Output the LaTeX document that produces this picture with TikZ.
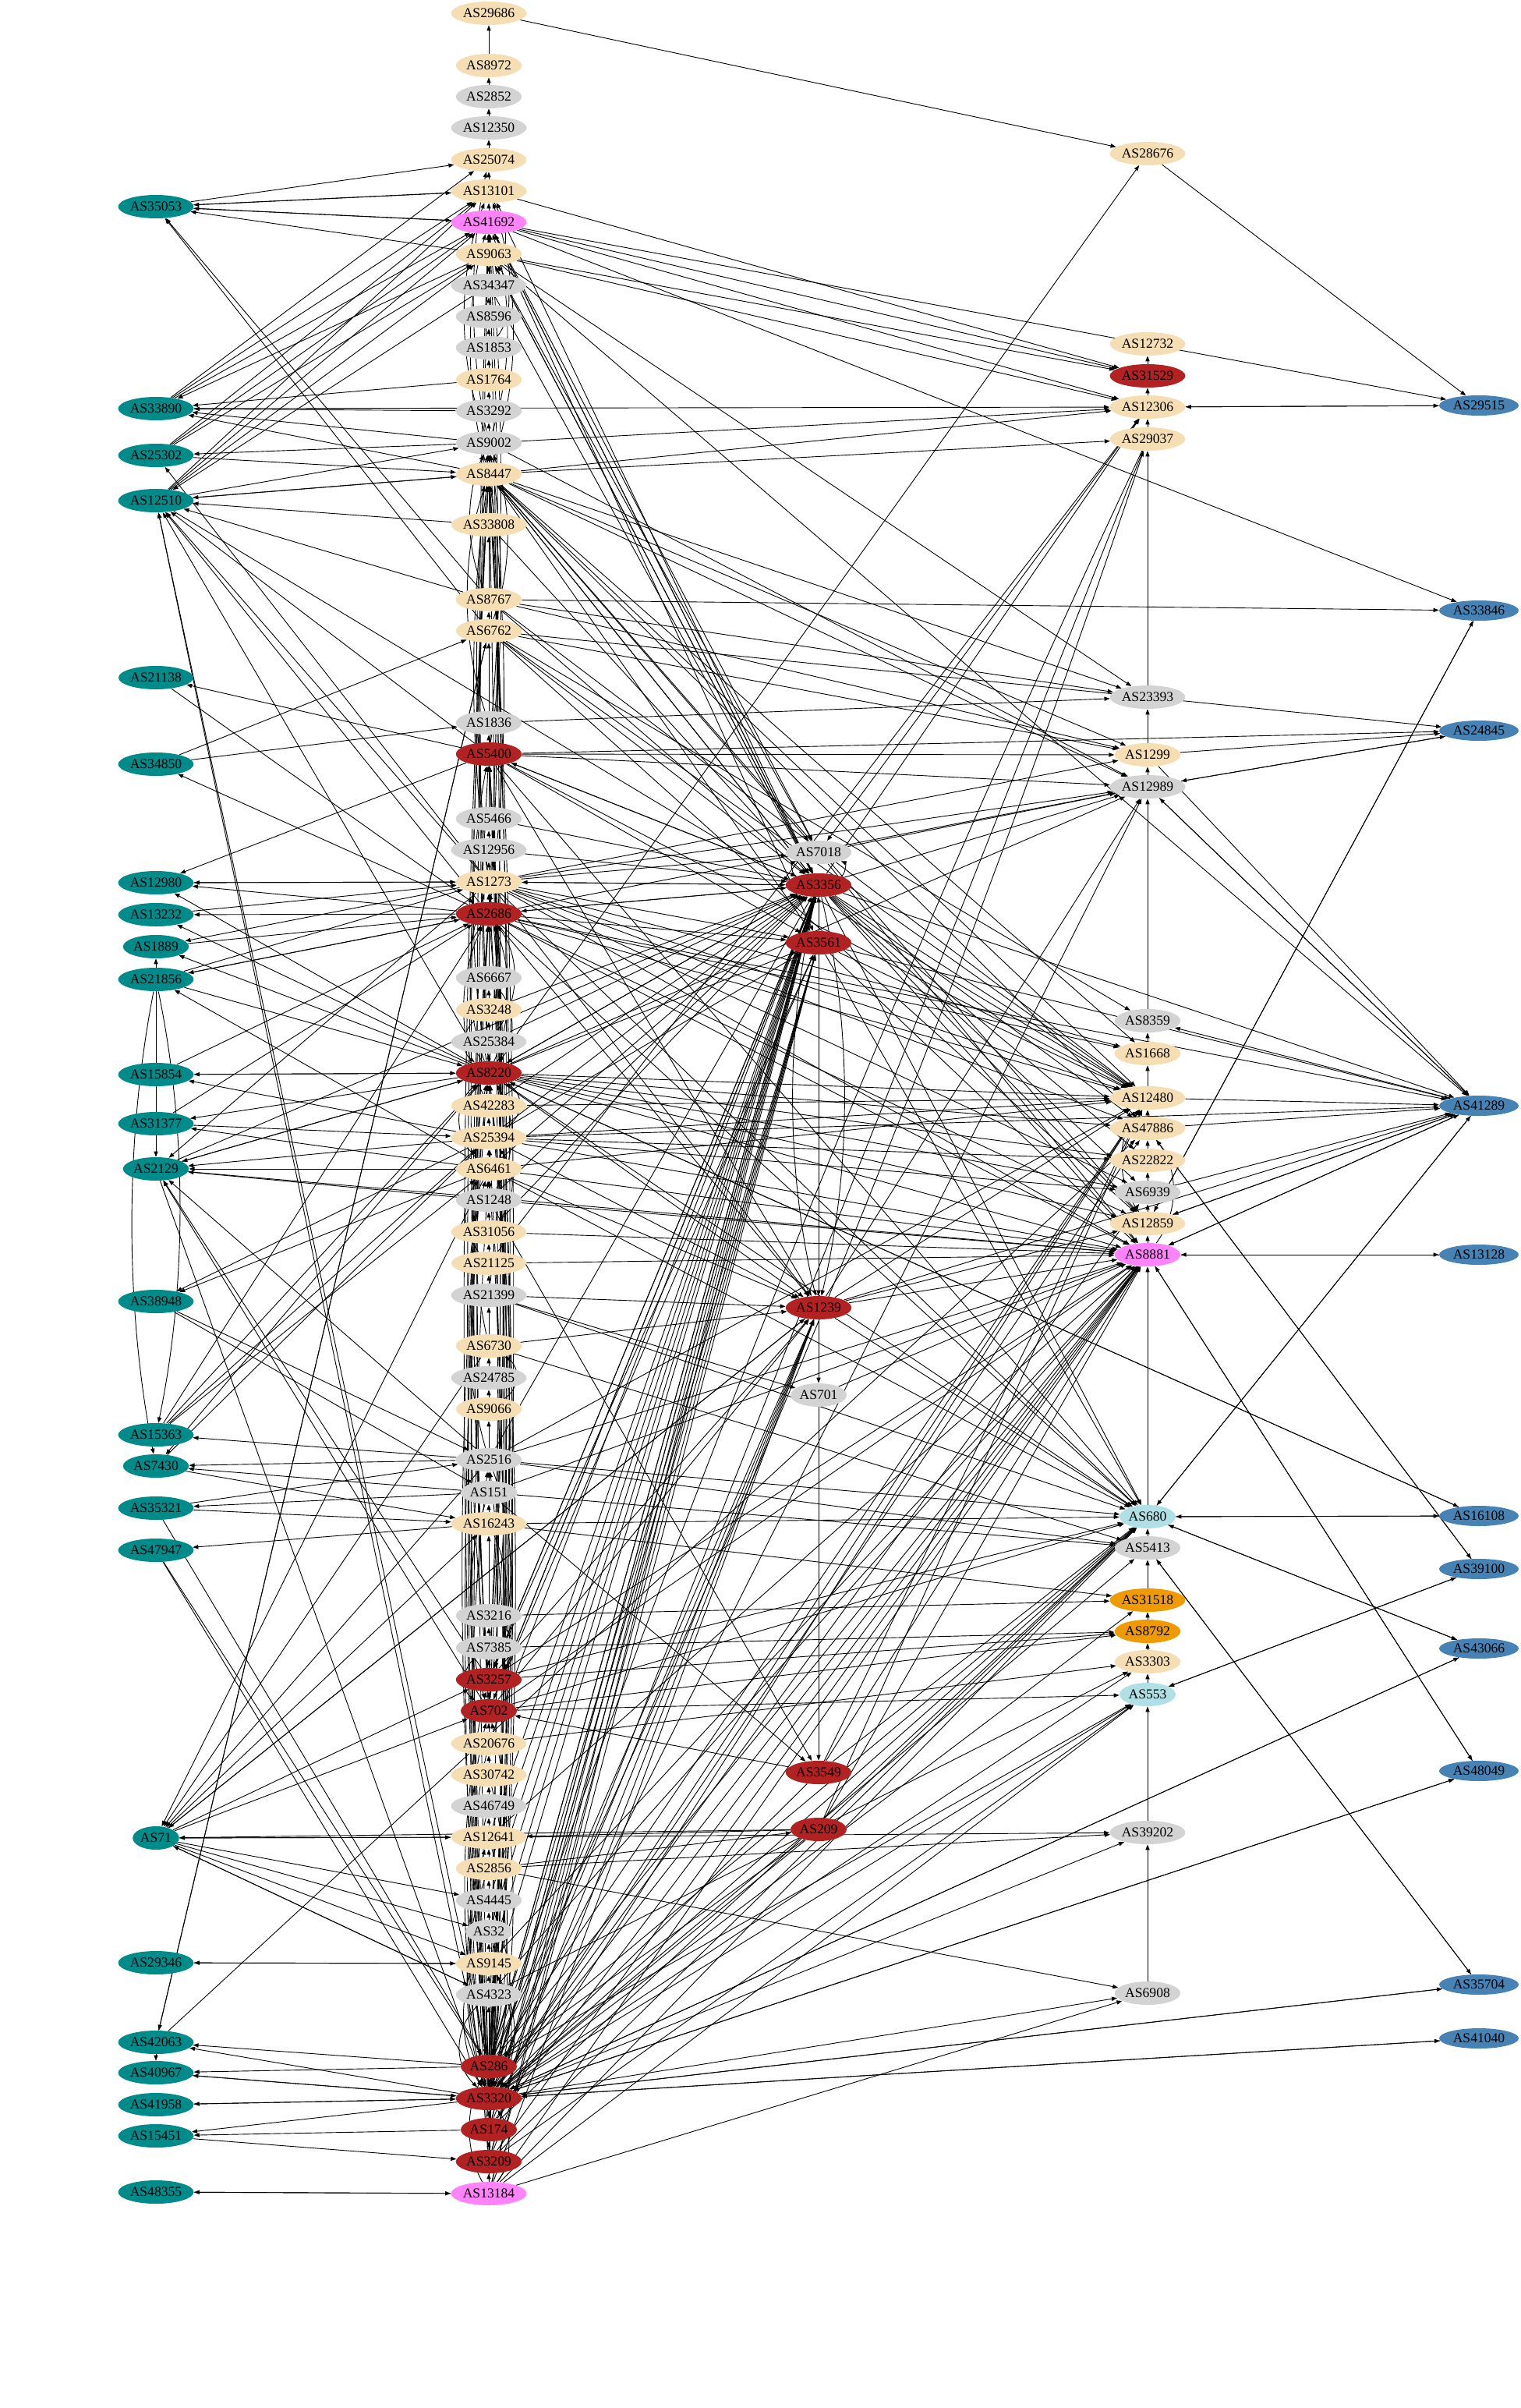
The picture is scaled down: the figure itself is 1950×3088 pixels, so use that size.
\documentclass[tikz,border=0pt]{standalone}
\usepackage{fontspec}
\setmainfont{Liberation Serif}
\usetikzlibrary{shapes.geometric,arrows.meta,backgrounds,calc}
\definecolor{wheatc}{HTML}{F5DEB3}
\definecolor{lgray}{HTML}{D3D3D3}
\definecolor{fire}{HTML}{B22222}
\definecolor{viol}{HTML}{FF83FA}
\definecolor{tealc}{HTML}{008B8B}
\definecolor{steel}{HTML}{4682B4}
\definecolor{powder}{HTML}{B0E0E6}
\definecolor{orng}{HTML}{EE9A00}
\tikzset{
 asn/.style={ellipse, draw=none, inner xsep=0.5pt, inner ysep=0pt, minimum height=15pt, font=\fontsize{8.8}{10}\selectfont, text=black},
 wh/.style={asn, fill=wheatc}, gr/.style={asn, fill=lgray}, rd/.style={asn, fill=fire},
 vi/.style={asn, fill=viol}, tl/.style={asn, fill=tealc}, sb/.style={asn, fill=steel, minimum height=13pt, minimum width=51pt},
 pb/.style={asn, fill=powder}, og/.style={asn, fill=orng},
 e/.style={draw=black, line width=0.45pt, -{Triangle[length=3.5pt,width=2.6pt]}}
}
\begin{document}
\begin{tikzpicture}[x=0.5pt,y=-0.5pt]
\useasboundingbox (0,0) rectangle (1950,3088);
% column 2
\foreach \n/\y/\s in {29686/17/wh,8972/84/wh,2852/124/gr,12350/164/gr,25074/205/wh,13101/245/wh,41692/285/vi,9063/326/wh,34347/366/gr,8596/406/gr,1853/446/gr,1764/487/wh,3292/527/gr,9002/568/gr,8447/608/wh,33808/673/wh,8767/769/wh,6762/809/wh,1836/927/gr,5400/967/rd,5466/1050/gr,12956/1090/gr,1273/1131/wh,2686/1172/rd,6667/1254/gr,3248/1295/wh,25384/1336/gr,8220/1376/rd,42283/1418/wh,25394/1459/wh,6461/1499/wh,1248/1539/gr,31056/1580/wh,21125/1620/wh,21399/1661/gr,6730/1726/wh,24785/1767/gr,9066/1807/wh,2516/1872/gr,151/1914/gr,16243/1954/wh,3216/2072/gr,7385/2113/gr,3257/2154/rd,702/2194/rd,20676/2236/wh,30742/2276/wh,46749/2316/gr,12641/2356/wh,2856/2396/wh,4445/2437/gr,32/2477/gr,9145/2518/wh,4323/2558/gr,286/2650/rd,3320/2691/rd,174/2731/rd,3209/2772/rd,13184/2813/vi}
 {\node[\s] (a\n) at (627,\y) {AS\n};}
% column 1
\foreach \n/\y in {35053/265,33890/524,25302/584,12510/642,21138/869,34850/980,12980/1132,13232/1173,1889/1214,21856/1256,15854/1378,31377/1441,2129/1499,38948/1669,15363/1840,7430/1880,35321/1934,47947/1988,71/2357,29346/2517,42063/2619,40967/2658,41958/2699,15451/2739,48355/2811}
 {\node[tl] (a\n) at (200,\y) {AS\n};}
% column 3
\foreach \n/\y/\s in {7018/1093/gr,3356/1135/rd,3561/1209/rd,1239/1677/rd,701/1789/gr,3549/2273/rd,209/2346/rd}
 {\node[\s] (a\n) at (1050,\y) {AS\n};}
% column 4
\foreach \n/\y/\s in {28676/197/wh,12732/441/wh,31529/482/rd,12306/522/wh,29037/563/wh,23393/894/gr,1299/968/wh,12989/1009/gr,8359/1309/gr,1668/1351/wh,12480/1408/wh,47886/1447/wh,22822/1488/wh,6939/1529/gr,12859/1569/wh,8881/1609/vi,680/1945/pb,5413/1985/gr,31518/2052/og,8792/2092/og,3303/2131/wh,553/2173/pb,39202/2350/gr,6908/2556/gr}
 {\node[\s] (a\n) at (1472,\y) {AS\n};}
% column 5
\foreach \n/\y in {29515/520,33846/783,24845/937,41289/1418,13128/1609,16108/1944,39100/2012,43066/2114,48049/2271,35704/2545,41040/2614}
 {\node[sb] (a\n) at (1897,\y) {AS\n};}
\begin{scope}[on background layer]
\fill[white] (0,0) rectangle (1950,3088);
\end{scope}
\begin{scope}[on background layer]
% straight edges
\foreach \a/\b in {
35053/25074, 35053/13101, 35053/41692, 41692/35053, 13101/35053, 9063/35053, 8767/35053, 6762/35053,
33890/25074, 33890/13101, 33890/41692, 9063/33890, 9002/33890, 8447/33890, 3292/33890, 1764/33890,
25302/41692, 25302/13101, 25302/8447, 9002/25302, 1273/25302, 25302/9063,
12510/41692, 12510/13101, 12510/9063, 12510/9002, 12510/8447, 8447/12510, 34347/12510, 5400/12510, 1273/12510, 2686/12510, 8220/12510, 3320/12510, 286/12510, 33808/12510, 8767/12510,
5400/21138, 21138/2686, 34850/6762, 2686/34850, 34850/1836,
1273/12980, 12980/1273, 2686/12980, 8220/12980, 5400/12980,
2686/13232, 8220/13232, 13232/1273, 1889/2686, 8220/1889, 1273/1889,
21856/2686, 21856/8220, 2686/21856, 21856/1273, 6461/21856, 21856/2129, 21856/1889,
8220/15854, 15854/8220, 25394/15854, 15854/2686,
8220/31377, 31377/25394, 6461/31377, 31377/2686,
8220/2129, 2129/8220, 25394/2129, 6461/2129, 1273/2129, 2516/2129, 702/2129, 3257/2129, 2129/3356, 1248/2129, 2129/8881, 2129/3320,
38948/2516, 25394/38948, 6461/38948, 38948/151,
15363/2686, 15363/8220, 15363/25394, 15363/6461, 2516/15363,
2516/7430, 151/7430, 7430/16243, 8220/7430, 7430/25394,
151/35321, 35321/2516, 35321/16243, 47947/286, 47947/3320, 16243/47947, 35321/286,
71/12641, 12641/71, 71/4445, 71/32, 71/9145, 71/4323, 4323/71, 2516/71, 71/16243, 209/71, 71/3257, 6461/71, 71/702, 1239/71, 71/1239, 6730/71,
29346/9145, 9145/29346, 42063/6762, 6762/42063, 42063/47886, 286/42063, 3320/42063, 42063/40967,
3320/40967, 40967/3320, 286/40967, 3320/41958, 41958/3320, 3320/15451, 15451/3209, 174/15451,
48355/13184, 13184/48355,
13101/3356, 41692/3356, 3356/41692, 9063/3356, 3356/9063, 34347/3356, 8447/3356, 3356/8447, 33808/3356, 8767/3356, 6762/3356, 5400/3356, 3356/5400, 5466/3356, 12956/3356, 1273/3356, 3356/1273, 2686/3356, 3356/2686, 3248/3356, 25384/3356, 8220/3356, 3356/8220, 42283/3356, 25394/3356, 6461/3356, 1248/3356, 31056/3356, 2516/3356, 3257/3356, 3356/3257, 702/3356, 3356/702, 20676/3356, 12641/3356, 2856/3356, 4445/3356, 32/3356, 9145/3356, 286/3356, 3356/286, 3320/3356, 3356/3320, 174/3356, 3209/3356, 13184/3356, 4323/3356,
8447/3561, 5400/3561, 1273/3561, 2686/3561, 8220/3561, 25394/3561, 3257/3561, 702/3561, 286/3561, 3320/3561, 174/3561, 3209/3561, 13184/3561, 41692/3561, 3561/3320,
41692/7018, 9063/7018, 8447/7018, 1273/7018, 12306/7018, 3356/12306, 7018/12989, 7018/8881,
5400/1239, 1273/1239, 2686/1239, 8220/1239, 25394/1239, 6461/1239, 3257/1239, 702/1239, 286/1239, 3320/1239, 174/1239, 3209/1239, 13184/1239, 21399/1239, 6730/1239, 1239/12480, 1239/8881, 1239/12859, 1239/680, 1239/41289, 1239/12989,
21399/701, 701/8881, 3549/702, 151/3549, 3549/8881, 3549/680, 3549/12480, 1248/3549, 3549/3320,
209/12641, 209/3320, 209/286, 209/8881, 209/680, 209/12480, 2856/209,
29686/28676, 28676/29515, 8220/28676, 41692/31529, 13101/31529, 9063/31529,
9002/12306, 8447/12306, 41692/12306, 9063/12306, 21125/12306, 33890/12306, 29037/3320, 8447/29037,
8447/12480, 5400/12480, 1273/12480, 2686/12480, 8220/12480, 25394/12480, 42283/12480, 6461/12480, 3320/12480, 286/12480, 174/12480, 2516/12480, 8767/12480, 6762/12480, 3356/12480, 3561/12480, 12510/12480,
3320/8881, 286/8881, 174/8881, 3209/8881, 13184/8881, 702/8881, 3257/8881, 2516/8881, 151/8881, 8220/8881, 1273/8881, 2686/8881, 25394/8881, 6461/8881, 1248/8881, 31056/8881, 21125/8881, 9145/8881, 12641/8881, 4323/8881, 3356/8881, 3561/8881,
8447/12859, 6762/12859, 2686/12859, 8220/12859, 3356/12859,
8447/47886, 1273/47886, 8220/47886, 3320/47886, 3356/47886,
8447/1668, 1273/1668, 2686/1668, 6762/8359,
1273/6939, 8220/6939, 25394/6939, 3320/6939, 3356/6939, 8220/22822, 25394/22822, 3356/22822,
8447/1299, 8767/1299, 6762/1299, 5400/1299, 1273/1299,
9002/12989, 8447/12989, 5400/12989, 3356/12989, 1273/12989, 2686/12989, 8220/12989, 3320/12989,
8447/23393, 8767/23393, 1836/23393, 9063/23393,
3320/680, 286/680, 174/680, 3209/680, 13184/680, 3257/680, 702/680, 2516/680, 16243/680, 8220/680, 5400/680, 1273/680, 2686/680, 3356/680, 6461/680, 21399/680, 3561/680,
2516/5413, 3320/5413, 151/5413, 6730/5413, 3216/31518, 3320/31518, 16243/31518,
7385/8792, 3257/8792, 702/8792, 3320/3303, 20676/3303, 4323/3303,
3320/553, 286/553, 3209/553, 13184/553, 702/553, 12641/39202, 2856/39202, 3320/39202,
2856/6908, 3320/6908, 13184/6908,
31529/12732, 12306/31529, 29037/12306, 23393/29037, 1299/23393, 12989/1299, 8359/12989, 1668/8359, 12480/1668, 47886/12480, 22822/47886, 6939/22822, 12859/6939, 8881/12859, 680/8881, 5413/680, 31518/5413, 8792/31518, 3303/8792, 553/3303, 39202/553, 6908/39202,
12306/29515, 29515/12306, 41692/29515, 41692/33846, 12859/33846, 33846/12859, 8767/33846,
6762/24845, 5400/24845, 12989/24845, 24845/12989, 1299/24845,
9063/41289, 12480/41289, 47886/41289, 41289/12859, 12859/41289, 41289/8881, 8881/41289, 680/41289, 41289/680, 3356/41289, 6939/41289, 12989/41289, 41289/12989, 25394/41289, 2686/41289, 3561/41289, 1299/41289, 41289/8359,
8881/13128, 13128/8881, 680/16108, 16108/680, 8220/16108, 16108/8220,
39100/553, 553/39100, 47886/39100, 39100/47886, 680/43066, 43066/680, 3320/43066, 43066/3320,
8881/48049, 48049/8881, 3320/48049, 48049/3320, 5413/35704, 35704/5413, 3320/35704, 35704/3320, 3320/41040, 41040/3320,
8972/29686, 2852/8972, 12350/2852, 25074/12350, 13101/25074, 41692/13101, 9063/41692, 34347/9063, 8596/34347, 1853/8596, 1764/1853, 3292/1764, 9002/3292, 8447/9002, 33808/8447, 8767/33808, 6762/8767, 1836/6762, 5400/1836, 5466/5400, 12956/5466, 1273/12956, 2686/1273, 6667/2686, 3248/6667, 25384/3248, 8220/25384, 42283/8220, 25394/42283, 6461/25394, 1248/6461, 31056/1248, 21125/31056, 21399/21125, 6730/21399, 24785/6730, 9066/24785, 2516/9066, 151/2516, 16243/151, 3216/16243, 7385/3216, 3257/7385, 702/3257, 20676/702, 30742/20676, 46749/30742, 12641/46749, 2856/12641, 4445/2856, 32/4445, 9145/32, 4323/9145, 286/4323, 3320/286, 174/3320, 3209/174, 13184/3209,
3561/3356, 1239/701, 701/3549, 3356/1239}
 {\draw[e] (a\a) -- (a\b);}
% bent edges (offset in px)
\foreach \a/\b/\t in {
9002/41692/30, 8447/41692/-30, 8447/13101/40, 9002/13101/-40, 34347/13101/25, 1853/9063/30, 9002/25074/-25,
2686/8447/25, 1273/8447/-25, 8220/8447/20, 8220/5400/-25, 8220/2686/30, 8220/1273/-30, 3257/8447/30, 702/8447/-30, 286/8447/36, 3320/8447/-36, 174/8447/42, 3209/8447/-42, 3320/5400/30, 286/5400/-30, 174/5400/35, 3320/2686/-35, 286/2686/40, 3320/8220/45, 286/8220/-45, 174/8220/40, 3209/8220/-40, 3320/1273/28, 702/8220/30, 3257/8220/-30, 3257/5400/20, 702/2686/-20, 13184/8447/15, 13184/3320/30, 3320/2516/30, 286/2516/-30, 3320/25394/25, 3320/6461/-25, 286/6461/25, 174/2686/-30, 3209/5400/25, 3320/702/40, 3320/3257/-40, 286/702/-35, 13184/286/-30, 3320/12641/-35, 3320/9145/35, 6762/9002/30, 8767/9002/-30, 5400/9002/20, 1273/9002/-20, 2686/9002/15, 8220/9002/-15, 5400/41692/20, 8220/41692/-15, 2686/41692/15, 3320/41692/-20, 286/41692/20, 702/5400/25, 3257/2686/-25, 1836/8447/-35, 6667/8220/35, 3248/8220/-35, 25384/2686/40, 42283/2686/-40, 25394/8220/45, 6461/8220/-45, 1248/8220/35, 2516/6461/-35, 3216/3257/35, 7385/702/-35, 20676/286/-30, 30742/286/30, 46749/3320/-30, 12641/3320/30, 2856/3320/-35, 4445/3320/35, 32/3320/-40, 9145/3320/40, 4323/3320/-45, 16243/3257/30, 151/702/-30, 2516/3257/35, 9066/6730/40, 31056/25394/35, 21125/6461/-35, 21399/1273/20, 6730/8220/-25,
21856/7430/-40, 21856/15363/40, 3356/1239/43, 3356/1239/-43, 3356/7018/35, 3356/7018/-35, 12859/12480/-40, 8881/47886/40,
29037/286/-45, 286/29037/48}
 {\draw[e] (a\a) .. controls ($(a\a)!0.33!(a\b)+(\t,0)$) and ($(a\a)!0.67!(a\b)+(\t,0)$) .. (a\b);}
\end{scope}
\end{tikzpicture}
\end{document}
